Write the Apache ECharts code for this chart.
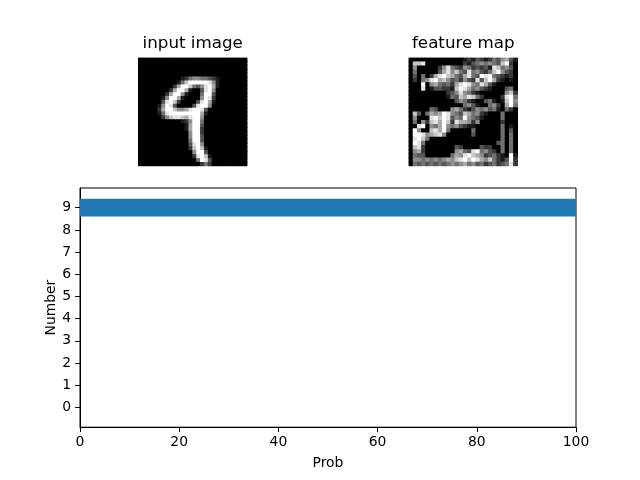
<!DOCTYPE html>
<html>
<head>
<meta charset="utf-8">
<script src="https://cdn.jsdelivr.net/npm/echarts@6/dist/echarts.min.js"></script>
<style>
html,body{margin:0;padding:0;background:#fff;}
#chart{width:640px;height:480px;}
</style>
</head>
<body>
<div id="chart"></div>
<script>
// ---- data ----
const titles = ['input image', 'feature map'];
const digits = [0, 1, 2, 3, 4, 5, 6, 7, 8, 9];
const probs = [0, 0, 0, 0, 0, 0, 0, 0, 0, 100];
const xTicks = [0, 20, 40, 60, 80, 100];
const xLabel = 'Prob';
const yLabel = 'Number';

// 28x28 input image, intensities 0 (black) .. 9 (white)
const inputRows = [
"0000000000000000000000000000",
"0000000000000000000000000000",
"0000000000000000000000000000",
"0000000000000000000000000000",
"0000000000000000000000000000",
"0000000000012455443210000000",
"0000000000147999998510000000",
"0000000002699743589610000000",
"0000000026996100389500000000",
"0000000269951000499300000000",
"0000001599610000598200000000",
"0000003897200003896100000000",
"0000015983000038995000000000",
"0000026997556899830000000000",
"0000014899999999610000000000",
"0000002578876899500000000000",
"0000000000012599400000000000",
"0000000000001699300000000000",
"0000000000001699200000000000",
"0000000000000599200000000000",
"0000000000000599300000000000",
"0000000000000499300000000000",
"0000000000000389500000000000",
"0000000000000279710000000000",
"0000000000000059930000000000",
"0000000000000028971000000000",
"0000000000000004983000000000",
"0000000000000000242000000000"
];

// 26x26 feature map, intensities 0 .. 9
const featureRows = [
"00000000000001213212435631",
"07780000000002134545437920",
"05000002584325423231874530",
"04000003685743845324795320",
"03040268976436843989432120",
"02045896753425328379621010",
"00090564342689854863100000",
"00080133221798645321000340",
"00000000023585421000000572",
"00000000014376874200002894",
"00000000000354210034101795",
"00000000000004531004520694",
"00000430005642135453410420",
"07304656985437645210004000",
"05000897983549543100004000",
"04052786972866525000002000",
"00890546954532110000004010",
"09500786940000040000004030",
"09985678500000030000004040",
"08974000000000000000004040",
"09840000000000000000034040",
"07820000000320000322004040",
"05620000000564389453204040",
"04330000004658976523421091",
"05545454565789798657421392",
"04343434345456453423423482"
];

// ---- build ----
function toCells(rows) {
  const n = rows.length, out = [];
  for (let r = 0; r < n; r++) {
    for (let c = 0; c < n; c++) {
      out.push([c, r, +(rows[r][c] || 0)]);
    }
  }
  return out;
}
function idx(n) { return Array.from({length: n}, (_, i) => i); }

const FONT = 'DejaVu Sans';
const nIn = inputRows.length, nFe = featureRows.length;
const imgSize = 108.7, imgTop = 57.6;
const imgCenters = [192.7, 463.3];

const hiddenCat = (n, inverse) => ({
  type: 'category', data: idx(n), show: false, inverse: !!inverse,
  axisLine: {show: false}, axisTick: {show: false}, axisLabel: {show: false}, splitLine: {show: false}
});

function pixelItem(params, api) {
  const p = api.coord([api.value(0), api.value(1)]);
  const s = api.size([1, 1]);
  return {
    type: 'rect',
    shape: {x: p[0] - s[0] / 2 - 0.4, y: p[1] - s[1] / 2 - 0.4, width: s[0] + 0.8, height: s[1] + 0.8},
    style: {fill: api.visual('color')}
  };
}

const option = {
  animation: false,
  backgroundColor: '#ffffff',
  textStyle: {fontFamily: FONT},
  title: titles.map((t, i) => ({
    text: t, left: imgCenters[i], top: 35.6, textAlign: 'center', padding: 0,
    textStyle: {fontFamily: FONT, fontSize: 16.7, fontWeight: 'normal', color: '#000'}
  })),
  grid: [
    {left: imgCenters[0] - imgSize / 2, top: imgTop, width: imgSize, height: imgSize, containLabel: false},
    {left: imgCenters[1] - imgSize / 2, top: imgTop, width: imgSize, height: imgSize, containLabel: false},
    {left: 80, top: 188, width: 496, height: 239.2, containLabel: false,
     show: true, borderColor: '#000', borderWidth: 1, backgroundColor: 'transparent'}
  ],
  xAxis: [
    Object.assign(hiddenCat(nIn), {gridIndex: 0}),
    Object.assign(hiddenCat(nFe), {gridIndex: 1}),
    {
      gridIndex: 2, type: 'value', min: 0, max: 100, interval: 20,
      name: xLabel, nameLocation: 'middle', nameGap: 29, nameMoveOverlap: false,
      nameTextStyle: {fontFamily: FONT, fontSize: 13.9, color: '#000'},
      axisLine: {show: true, onZero: false, lineStyle: {color: '#000', width: 1}},
      axisTick: {show: true, length: 4.9, lineStyle: {color: '#000', width: 1}},
      axisLabel: {show: true, margin: 8, fontFamily: FONT, fontSize: 13.9, color: '#000',
                  customValues: xTicks},
      splitLine: {show: false}
    }
  ],
  yAxis: [
    Object.assign(hiddenCat(nIn, true), {gridIndex: 0}),
    Object.assign(hiddenCat(nFe, true), {gridIndex: 1}),
    {
      gridIndex: 2, type: 'value', min: -0.89, max: 9.89,
      name: yLabel, nameLocation: 'middle', nameGap: 22, nameRotate: 90, nameMoveOverlap: false,
      nameTextStyle: {fontFamily: FONT, fontSize: 13.9, color: '#000'},
      axisLine: {show: true, onZero: false, lineStyle: {color: '#000', width: 1}},
      axisTick: {show: true, length: 4.9, lineStyle: {color: '#000', width: 1}, customValues: digits},
      axisLabel: {show: true, margin: 9, fontFamily: FONT, fontSize: 13.9, color: '#000',
                  customValues: digits},
      splitLine: {show: false}
    }
  ],
  visualMap: [
    {type: 'continuous', show: false, min: 0, max: 9, seriesIndex: 0, dimension: 2,
     inRange: {color: ['#000000', '#ffffff']}},
    {type: 'continuous', show: false, min: 0, max: 9, seriesIndex: 1, dimension: 2,
     inRange: {color: ['#000000', '#ffffff']}}
  ],
  series: [
    {type: 'custom', xAxisIndex: 0, yAxisIndex: 0, clip: true, data: toCells(inputRows),
     encode: {x: 0, y: 1}, renderItem: pixelItem},
    {type: 'custom', xAxisIndex: 1, yAxisIndex: 1, clip: true, data: toCells(featureRows),
     encode: {x: 0, y: 1}, renderItem: pixelItem},
    {
      type: 'custom', xAxisIndex: 2, yAxisIndex: 2, clip: true,
      data: digits.map((d, i) => [probs[i], d]),
      encode: {x: 0, y: 1},
      renderItem: function (params, api) {
        const v = api.value(0), y = api.value(1);
        const p0 = api.coord([0, y + 0.4]);
        const p1 = api.coord([v, y - 0.4]);
        return {
          type: 'rect',
          shape: {x: p0[0], y: p0[1], width: p1[0] - p0[0], height: p1[1] - p0[1]},
          style: {fill: '#1f77b4'}
        };
      }
    }
  ]
};

const chart = echarts.init(document.getElementById('chart'), null, {renderer: 'canvas', width: 640, height: 480});
chart.setOption(option);
</script>
</body>
</html>
